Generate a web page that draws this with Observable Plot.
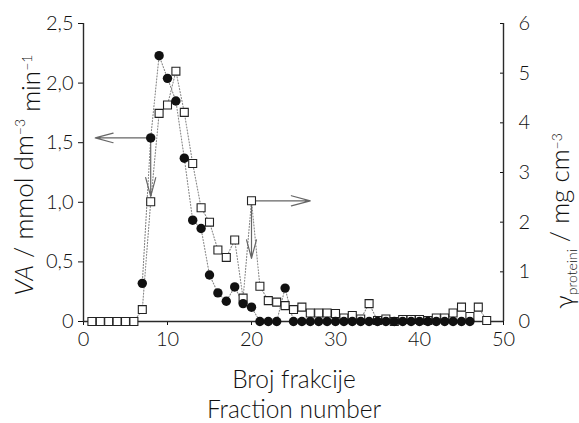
<!DOCTYPE html>
<html><head><meta charset="utf-8">
<script src="https://cdn.jsdelivr.net/npm/d3@7"></script>
<script src="https://cdn.jsdelivr.net/npm/@observablehq/plot@0.6"></script>
<style>
body{margin:0;background:#fff}
#chart svg{font-family:Lato,"Open Sans",sans-serif;font-weight:300;overflow:visible}
</style>
</head><body><div id="chart"></div>
<script>
// Enzyme activity (VA, mmol dm-3 min-1) per fraction
const vaFraction = [7,8,9,10,11,12,13,14,15,16,17,18,19,20,21,22,23,24,25,26,27,28,29,30,31,32,33,34,35,36,37,38,39,40,41,42,43,44,45,46];
const vaValue    = [0.32,1.54,2.23,2.04,1.85,1.37,0.85,0.78,0.39,0.24,0.17,0.29,0.15,0.12,0,0,0,0.28,0,0,0,0,0,0,0,0,0,0,0,0,0,0,0,0,0,0,0,0,0,0];
// Protein concentration (mg cm-3) per fraction
const proteinFraction = [1,2,3,4,5,6,7,8,9,10,11,12,13,14,15,16,17,18,19,20,21,22,23,24,25,26,27,28,29,30,31,32,33,34,35,36,37,38,39,40,41,42,43,44,45,46,47,48];
const proteinValue    = [0,0,0,0,0,0,0.24,2.41,4.19,4.36,5.04,4.21,3.18,2.29,2.0,1.44,1.29,1.64,0.47,2.43,0.71,0.42,0.39,0.32,0.24,0.29,0.17,0.17,0.17,0.16,0.07,0.12,0.05,0.36,0.02,0.05,0,0.04,0.04,0.04,0.02,0.07,0.07,0.17,0.29,0.1,0.29,0.02];
// Axis ticks
const xTicks = [0,10,20,30,40,50];
const vaTicks = [0,0.5,1.0,1.5,2.0,2.5];
const proteinTicks = [0,1,2,3,4,5,6];
// Annotation arrows (fraction, value on the named axis)
const arrowFrom = [{x:8, va:1.54}, {x:8, va:1.54}, {x:20, protein:2.43}, {x:20, protein:2.43}];
const arrowTo   = [{x:1.4, va:1.54}, {x:8, va:1.05}, {x:27, protein:2.43}, {x:20, va:0.53}];

const VA_MAX = 2.5, P_MAX = 6;
const p2y = p => p * VA_MAX / P_MAX;
const yOf = o => o.va !== undefined ? o.va : p2y(o.protein);

const va = vaFraction.map((f,i) => ({f, y: vaValue[i]}));
const prot = proteinFraction.map((f,i) => ({f, y: p2y(proteinValue[i])}));
const arrows = arrowFrom.map((a,i) => ({x1:a.x, y1:yOf(a), x2:arrowTo[i].x, y2:yOf(arrowTo[i])}));

const ink = "#111";
const svg = Plot.plot({
  width: 579, height: 423,
  marginTop: 23, marginBottom: 102, marginLeft: 83, marginRight: 76,
  style: {fontSize: "20px", color: ink, background: "#fff"},
  x: {domain: [0,50]},
  y: {domain: [0,2.5]},
  marks: [
    Plot.axisX(xTicks, {tickSize: 4, tickPadding: 6, label: null, fontSize: 20}),
    Plot.axisY(vaTicks, {anchor: "left", tickSize: 5, tickPadding: 5, label: null, fontSize: 20,
      tickFormat: d => d === 0 ? "0" : d.toFixed(1).replace(".", ",")}),
    Plot.axisY(proteinTicks.map(p2y), {anchor: "right", tickSize: -4, tickPadding: 19, label: null, fontSize: 20,
      tickFormat: d => String(Math.round(d * P_MAX / VA_MAX))}),
    Plot.line(prot, {x: "f", y: "y", stroke: "#888", strokeWidth: 1.1, strokeDasharray: "1.1,1.9"}),
    Plot.line(va, {x: "f", y: "y", stroke: "#888", strokeWidth: 1.1, strokeDasharray: "1.1,1.9"}),
    Plot.arrow(arrows, {x1:"x1", y1:"y1", x2:"x2", y2:"y2", stroke: "#666", strokeWidth: 1.2, headLength: 34, headAngle: 30}),
    Plot.ruleY([0], {stroke: "#2a2a2a", strokeWidth: 1.4}),
    Plot.ruleX([0, 50], {stroke: "#2a2a2a", strokeWidth: 1.4}),
    Plot.dot(prot, {x: "f", y: "y", symbol: "square", r: 4.5, fill: "#fff", stroke: "#222", strokeWidth: 1.1}),
    Plot.dot(va, {x: "f", y: "y", r: 4.7, fill: "#111", stroke: "none"})
  ]
});
document.getElementById("chart").appendChild(svg);

// axis titles with italic, superscripts and subscript
const s = d3.select(svg);
const xl = s.append("text").attr("text-anchor","middle").attr("fill",ink).style("font-size","24.5px");
xl.append("tspan").attr("x",294).attr("y",388).text("Broj frakcije");
xl.append("tspan").attr("x",294).attr("y",418).text("Fraction number");

const yl = s.append("text").attr("text-anchor","middle").attr("fill",ink).style("font-size","26px")
  .attr("transform","translate(33,175) rotate(-90)");
yl.append("tspan").style("font-style","italic").text("VA");
yl.append("tspan").text(" / mmol dm");
yl.append("tspan").attr("dy","-0.55em").style("font-size","14px").text("−3");
yl.append("tspan").attr("dy","0.55em").text(" min");
yl.append("tspan").attr("dy","-0.55em").style("font-size","14px").text("−1");

const yr = s.append("text").attr("text-anchor","middle").attr("fill",ink).style("font-size","26px")
  .attr("transform","translate(573,221) rotate(-90)");
yr.append("tspan").text("γ");
yr.append("tspan").attr("dy","0.3em").style("font-size","14px").text("proteini");
yr.append("tspan").attr("dy","-0.3em").text(" / mg cm");
yr.append("tspan").attr("dy","-0.55em").style("font-size","14px").text("−3");
</script>
</body></html>
